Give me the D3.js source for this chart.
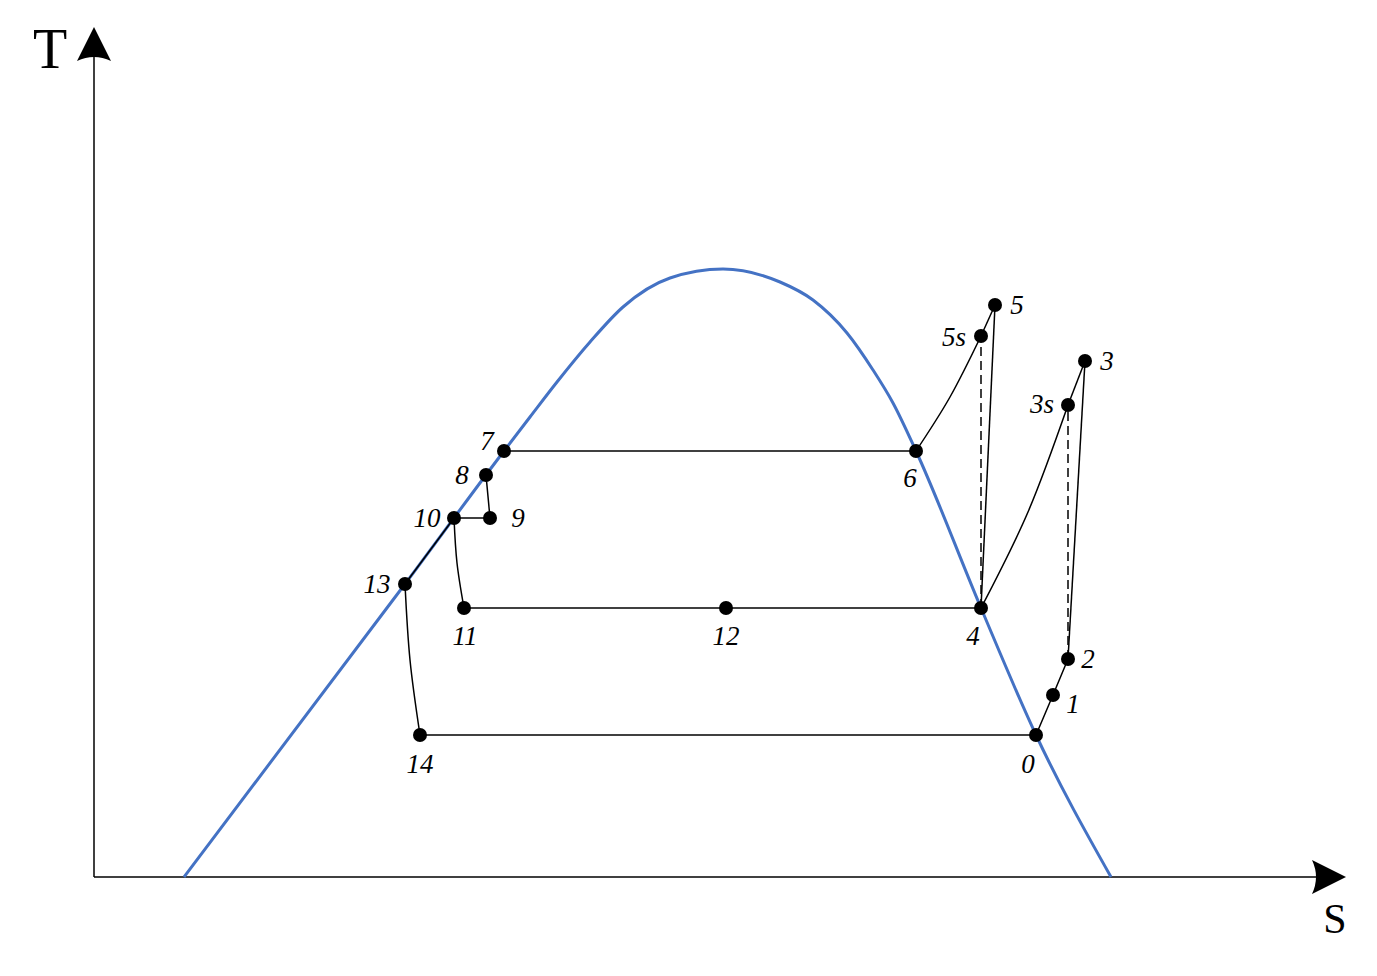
<!DOCTYPE html>
<html><head><meta charset="utf-8">
<script src="https://cdn.jsdelivr.net/npm/d3@7"></script>
<style>html,body{margin:0;padding:0;background:#fff;}svg{display:block;}</style>
</head><body>
<svg id="chart" width="1377" height="976"></svg>
<script>
// Saturation dome (s, T) in arbitrary units
const domeS = [90, 311, 410, 436, 463, 496, 529, 576, 629, 686, 719, 753, 779, 799, 822, 887, 942, 1017];
const domeT = [0, 293, 426, 460, 495, 535, 570, 599, 608, 595, 577, 544, 507, 474, 426, 269, 142, 0];

// State points
const stateNames = ["0","1","2","3","3s","4","5","5s","6","7","8","9","10","11","12","13","14"];
const stateS =     [942, 959, 974, 991, 974, 887, 901, 887, 822, 410, 392, 396, 360, 370, 632, 311, 326];
const stateT =     [142, 182, 218, 516, 472, 269, 572, 541, 426, 426, 402, 359, 359, 269, 269, 293, 142];

// Process paths (solid) — sequences of state names; curved ones have an intermediate waypoint
const solidPaths = [
  ["14","0"], ["0","1","2"], ["2","3"], ["3s","3"], ["4","5"], ["5s","5"],
  ["6","7"], ["8","9"], ["9","10"], ["11","12","4"], ["10","13"]
];
const curvedPaths = [
  { pts: ["6", "5s"], via: [856, 480] },
  { pts: ["4", "3s"], via: [934, 365] },
  { pts: ["10", "11"], via: [363, 314] },
  { pts: ["13", "14"], via: [316, 217] }
];
const dashedPaths = [["2","3s"], ["4","5s"]];

const axisLabels = ["T", "S"];

const svg = d3.select("#chart");
const x = d3.scaleLinear().domain([0, 1250]).range([94, 1344]);
const y = d3.scaleLinear().domain([0, 850]).range([877, 27]);

const pt = {};
stateNames.forEach((n, i) => pt[n] = [stateS[i], stateT[i]]);

// label offsets (px): [dx, dy-baseline]
const labelOff = {
  "0":[-8,38],"1":[20,18],"2":[20,9],"3":[22,9],"3s":[-26,8],"4":[-8,37],
  "5":[22,9],"5s":[-27,10],"6":[-6,36],"7":[-17,-1],"8":[-24,9],"9":[28,9],
  "10":[-27,9],"11":[1,37],"12":[0,37],"13":[-28,9],"14":[0,38]
};

// Axes
svg.append("line").attr("x1", x(0)).attr("y1", y(0)).attr("x2", x(0)).attr("y2", 56)
  .attr("stroke", "#000").attr("stroke-width", 1.5);
svg.append("line").attr("x1", x(0)).attr("y1", y(0)).attr("x2", 1318).attr("y2", y(0))
  .attr("stroke", "#000").attr("stroke-width", 1.5);
// arrowheads
const ax = x(0), ay = y(0);
svg.append("path").attr("d", `M${ax},27 L${ax+17},61 Q${ax},53 ${ax-17},61 Z`).attr("fill", "#000");
svg.append("path").attr("d", `M1346,${ay} L1312,${ay-17} Q1320,${ay} 1312,${ay+17} Z`).attr("fill", "#000");

svg.append("text").attr("x", 50).attr("y", 68).attr("text-anchor", "middle")
  .attr("font-family", "Liberation Serif, Times New Roman, serif").attr("font-size", 56)
  .text(axisLabels[0]);
svg.append("text").attr("x", 1335).attr("y", 933).attr("text-anchor", "middle")
  .attr("font-family", "Liberation Serif, Times New Roman, serif").attr("font-size", 42)
  .text(axisLabels[1]);

// Dome (single-valued in s, so monotone-x interpolation keeps it smooth)
const domeData = domeS.map((s, i) => [s, domeT[i]]);
const domeLine = d3.line().x(d => x(d[0])).y(d => y(d[1])).curve(d3.curveMonotoneX);
svg.append("path").attr("d", domeLine(domeData)).attr("fill", "none")
  .attr("stroke", "#4472C4").attr("stroke-width", 3);

// Process lines
const straight = d3.line().x(d => x(d[0])).y(d => y(d[1]));
const smooth = d3.line().x(d => x(d[0])).y(d => y(d[1])).curve(d3.curveNatural);
const g = svg.append("g");
solidPaths.forEach(p => {
  g.append("path").attr("d", straight(p.map(n => pt[n]))).attr("fill", "none")
    .attr("stroke", "#000").attr("stroke-width", 1.5);
});
curvedPaths.forEach(c => {
  const data = [pt[c.pts[0]], c.via, pt[c.pts[1]]];
  g.append("path").attr("d", smooth(data)).attr("fill", "none")
    .attr("stroke", "#000").attr("stroke-width", 1.5);
});
dashedPaths.forEach(p => {
  g.append("path").attr("d", straight(p.map(n => pt[n]))).attr("fill", "none")
    .attr("stroke", "#000").attr("stroke-width", 1.5).attr("stroke-dasharray", "9,5");
});

// Points
svg.append("g").selectAll("circle").data(stateNames).join("circle")
  .attr("cx", n => x(pt[n][0])).attr("cy", n => y(pt[n][1])).attr("r", 7).attr("fill", "#000");

// Labels
svg.append("g").selectAll("text").data(stateNames).join("text")
  .attr("x", n => x(pt[n][0]) + labelOff[n][0])
  .attr("y", n => y(pt[n][1]) + labelOff[n][1])
  .attr("text-anchor", "middle")
  .attr("font-family", "Liberation Serif, Times New Roman, serif")
  .attr("font-style", "italic").attr("font-size", 27)
  .text(n => n);
</script>
</body></html>
